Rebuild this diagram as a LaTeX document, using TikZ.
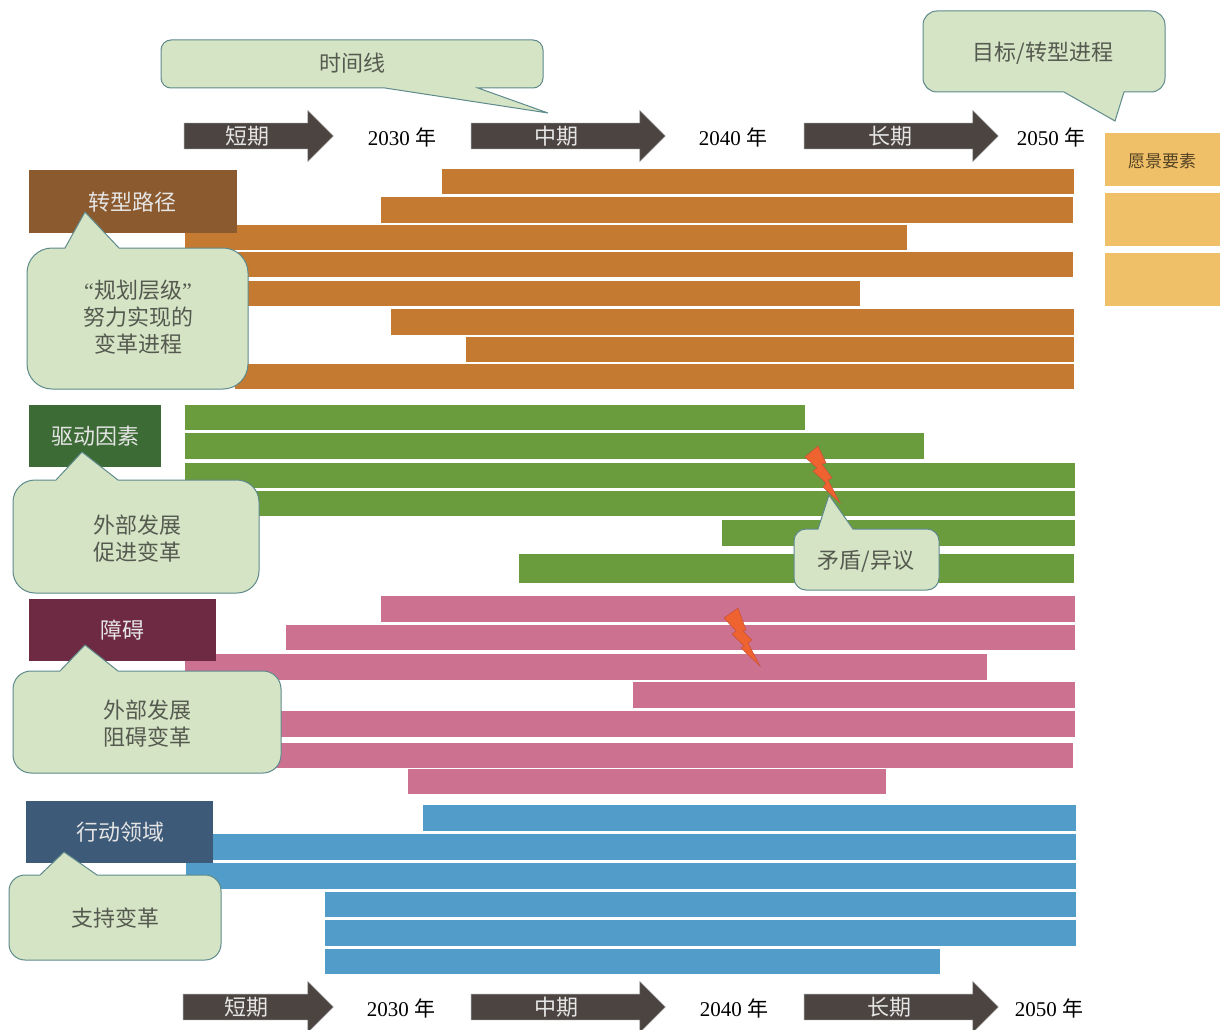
\documentclass[tikz,border=0pt]{standalone}
\usepackage{fontspec}
\setmainfont{Liberation Serif}
\newfontfamily\cjk{Noto Sans CJK SC}
\usetikzlibrary{shapes,arrows}
\definecolor{barorange}{HTML}{C47A30}
\definecolor{bargreen}{HTML}{6A9C3E}
\definecolor{barpink}{HTML}{CC7290}
\definecolor{barblue}{HTML}{529CC9}
\definecolor{calloutfill}{HTML}{D5E4C4}
\definecolor{calloutline}{HTML}{5E8A8C}
\definecolor{arrowfill}{HTML}{4B4441}
\definecolor{visionfill}{HTML}{F0C068}
\definecolor{textgrey}{HTML}{555A50}
\definecolor{boltfill}{HTML}{EE6330}
\definecolor{boltline}{HTML}{C8503A}

\begin{document}
\begin{tikzpicture}[x=1pt,y=-1pt]

\tikzstyle{every node}=[font=\cjk\fontsize{22}{27}\selectfont, inner sep=0pt, align=center]
\tikzstyle{orangebar}=[fill=barorange]
\tikzstyle{greenbar}=[fill=bargreen]
\tikzstyle{pinkbar}=[fill=barpink]
\tikzstyle{bluebar}=[fill=barblue]
\tikzstyle{visionbox}=[fill=visionfill]
\tikzstyle{callout}=[fill=calloutfill, draw=calloutline, line width=1pt]
\tikzstyle{bolt}=[fill=boltfill, draw=boltline, line width=0.5pt]
\tikzstyle{timearrow}=[draw=gray, fill=arrowfill, line width=0.6pt, single arrow, single arrow tip angle=90, single arrow head extend=12.5pt, inner ysep=12.5pt, minimum width=50pt]
\tikzstyle{arrowlabel}=[text=white!90!black]
\tikzstyle{calloutlabel}=[text=textgrey]
\tikzstyle{yearlabel}=[font=\fontsize{21}{27}\selectfont]

\useasboundingbox (0,0) rectangle (1220,1030);
\fill[white] (0,0) rectangle (1220,1030);

% transition bars
\fill[orangebar] (442,169) rectangle (1074,194);
\fill[orangebar] (381,197) rectangle (1073,223);
\fill[orangebar] (185,225) rectangle (907,250);
\fill[orangebar] (185,252) rectangle (1073,277);
\fill[orangebar] (185,281) rectangle (860,306);
\fill[orangebar] (391,309) rectangle (1074,335);
\fill[orangebar] (466,337) rectangle (1074,362);
\fill[orangebar] (235,364) rectangle (1074,389);

% driver bars
\fill[greenbar] (185,405) rectangle (805,430);
\fill[greenbar] (185,433) rectangle (924,459);
\fill[greenbar] (185,463) rectangle (1075,488);
\fill[greenbar] (185,491) rectangle (1075,516);
\fill[greenbar] (722,520) rectangle (1075,546);
\fill[greenbar] (519,554) rectangle (1074,583);

% barrier bars
\fill[pinkbar] (381,596) rectangle (1075,622);
\fill[pinkbar] (286,625) rectangle (1075,650);
\fill[pinkbar] (185,654) rectangle (987,680);
\fill[pinkbar] (633,682) rectangle (1075,708);
\fill[pinkbar] (270,711) rectangle (1075,737);
\fill[pinkbar] (270,743) rectangle (1073,768);
\fill[pinkbar] (408,769) rectangle (886,794);

% action bars
\fill[bluebar] (423,805) rectangle (1076,831);
\fill[bluebar] (186,834) rectangle (1076,860);
\fill[bluebar] (186,863) rectangle (1076,889);
\fill[bluebar] (325,892) rectangle (1076,917);
\fill[bluebar] (325,920) rectangle (1076,946);
\fill[bluebar] (325,949) rectangle (940,974);

% vision column
\fill[visionbox] (1105,133) rectangle (1220,186);
\fill[visionbox] (1105,193) rectangle (1220,246);
\fill[visionbox] (1105,253) rectangle (1220,306);
\node [font=\cjk\fontsize{17}{20}\selectfont, text=black!65!visionfill] (vision) at (1162,161) {愿景要素};

% section headers
\fill[fill={rgb,255:red,139;green,90;blue,46}] (29,170) rectangle (237,233);
\fill[fill={rgb,255:red,61;green,107;blue,53}] (29,405) rectangle (161,467);
\fill[fill={rgb,255:red,110;green,42;blue,66}] (29,599) rectangle (216,661);
\fill[fill={rgb,255:red,61;green,90;blue,120}] (26,801) rectangle (213,863);
\node [arrowlabel] (paths) at (132,202) {转型路径};
\node [arrowlabel] (drivers) at (95,436) {驱动因素};
\node [arrowlabel] (barriers) at (122,630) {障碍};
\node [arrowlabel] (actions) at (120,832) {行动领域};

% top time line
\node [timearrow, minimum height=149pt] (shorttop) at (252.3,136) {};
\node [timearrow, minimum height=194pt] (midtop) at (561.8,136) {};
\node [timearrow, minimum height=194pt] (longtop) at (894.8,136) {};
\node [arrowlabel] (shorttoplabel) at (247,136) {短期};
\node [arrowlabel] (midtoplabel) at (556,136) {中期};
\node [arrowlabel] (longtoplabel) at (890,136) {长期};
\node [yearlabel] (y2030top) at (402,137) {2030 {\cjk 年}};
\node [yearlabel] (y2040top) at (733,137) {2040 {\cjk 年}};
\node [yearlabel] (y2050top) at (1051,137) {2050 {\cjk 年}};

% bottom time line
\node [timearrow, minimum height=150pt] (shortbot) at (251.8,1007) {};
\node [timearrow, minimum height=194pt] (midbot) at (561.8,1007) {};
\node [timearrow, minimum height=194pt] (longbot) at (894.8,1007) {};
\node [arrowlabel] (shortbotlabel) at (246,1007) {短期};
\node [arrowlabel] (midbotlabel) at (556,1007) {中期};
\node [arrowlabel] (longbotlabel) at (889,1007) {长期};
\node [yearlabel] (y2030bot) at (401,1008) {2030 {\cjk 年}};
\node [yearlabel] (y2040bot) at (734,1008) {2040 {\cjk 年}};
\node [yearlabel] (y2050bot) at (1049,1008) {2050 {\cjk 年}};

% lightning
\draw[bolt] (805,457) -- (818,446) -- (826,463) -- (822,464) -- (832,478) -- (828,480) -- (840,503) -- (823,487) -- (826,483) -- (813,471) -- (817,468) -- cycle;
\draw[bolt] (724,618) -- (738,608) -- (746,630) -- (743,631) -- (752,640) -- (748,643) -- (760,666) -- (741,648) -- (744,646) -- (732,634) -- (736,631) -- cycle;

% callouts
\draw[callout] (300,40) [rounded corners=10pt] -- (543,40) -- (543,88) [sharp corners] -- (478,88) -- (548,113) -- (385,88) [rounded corners=10pt] -- (161,88) -- (161,40) -- cycle;
\draw[callout] (1040,11) [rounded corners=14pt] -- (1165,11) -- (1165,92) [sharp corners] -- (1124,92) -- (1115,121) -- (1064,92) [rounded corners=14pt] -- (923,92) -- (923,11) -- cycle;
\draw[callout] (27,320) [rounded corners=25pt] -- (27,248) [sharp corners] -- (65,248) -- (85,212) -- (119,248) [rounded corners=25pt] -- (248,248) -- (248,389) -- (27,389) -- cycle;
\draw[callout] (13,530) [rounded corners=22pt] -- (13,480) [sharp corners] -- (56,480) -- (82,452) -- (118,480) [rounded corners=22pt] -- (259,480) -- (259,593) -- (13,593) -- cycle;
\draw[callout] (794,560) [rounded corners=12pt] -- (794,529) [sharp corners] -- (818,529) -- (829,495) -- (853,529) [rounded corners=12pt] -- (939,529) -- (939,590) -- (794,590) -- cycle;
\draw[callout] (13,720) [rounded corners=18pt] -- (13,671) [sharp corners] -- (60,671) -- (85,645) -- (118,671) [rounded corners=18pt] -- (281,671) -- (281,773) -- (13,773) -- cycle;
\draw[callout] (9,920) [rounded corners=16pt] -- (9,875) [sharp corners] -- (40,875) -- (64,852) -- (97,875) [rounded corners=16pt] -- (221,875) -- (221,960) -- (9,960) -- cycle;

\node [calloutlabel] (timeline) at (352,63) {时间线};
\node [calloutlabel] (goal) at (1043,53) {目标/转型进程};
\node [calloutlabel] (planning) at (138,317) {{\rmfamily “}规划层级{\rmfamily ”}\\努力实现的\\变革进程};
\node [calloutlabel] (promote) at (137,539) {外部发展\\促进变革};
\node [calloutlabel] (conflict) at (866,561) {矛盾/异议};
\node [calloutlabel] (hinder) at (147,724) {外部发展\\阻碍变革};
\node [calloutlabel] (support) at (115,918) {支持变革};

\end{tikzpicture}
\end{document}
